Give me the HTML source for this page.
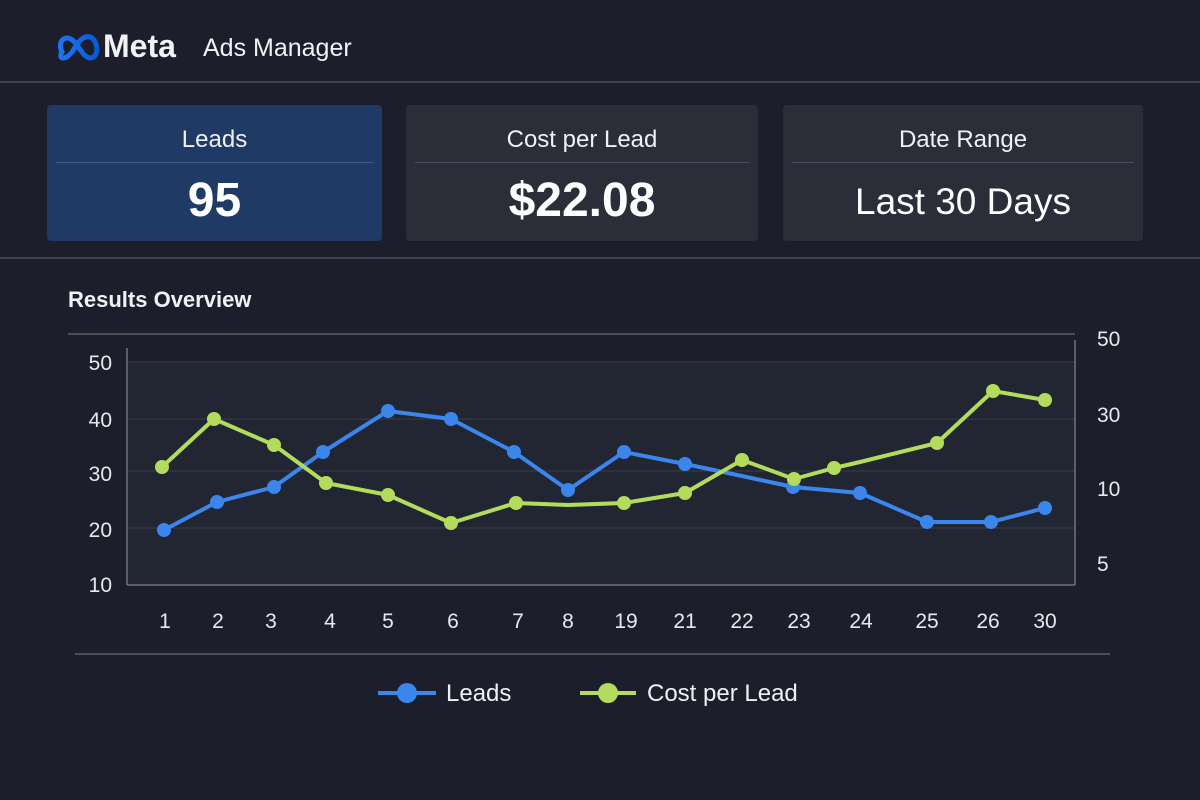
<!DOCTYPE html>
<html><head><meta charset="utf-8"><style>
body{margin:0;width:1200px;height:800px;background:#1c1f2b;font-family:"Liberation Sans",sans-serif;color:#fff;overflow:hidden;position:relative}
.card{position:absolute;top:105px;height:136px;border-radius:4px;background:#2b2e38}
.card .t{position:absolute;top:21px;width:100%;text-align:center;font-size:24px;color:#f0f0f4}
.card .hr{position:absolute;top:57px;left:9px;right:9px;height:1px;background:#4a4e5c}
.card .v{position:absolute;top:68px;width:100%;text-align:center;font-size:48px;font-weight:bold}
</style></head><body>
<svg width="1200" height="800" style="position:absolute;left:0;top:0">
<defs><linearGradient id="lg" x1="0" x2="1"><stop offset="0" stop-color="#1e74f0"/><stop offset="1" stop-color="#0a5ad8"/></linearGradient></defs>
<path d="M62 52 C56 40,68 32,76 44 L82 52 C90 64,100 56,96 44 C92 32,82 36,76 46 L72 52 C64 62,58 58,62 52Z" fill="none" stroke="url(#lg)" stroke-width="5"/>
<text x="103" y="57" font-size="32" font-weight="bold" fill="#f2f2f6">Meta</text>
<text x="203" y="56" font-size="25" fill="#f2f2f6">Ads Manager</text>
<line x1="0" y1="82" x2="1200" y2="82" stroke="#3e4250" stroke-width="2"/>
<line x1="0" y1="258" x2="1200" y2="258" stroke="#3e4250" stroke-width="2"/>
<text x="68" y="307" font-size="22" font-weight="bold" fill="#f2f2f6">Results Overview</text>
<line x1="68" y1="334" x2="1075" y2="334" stroke="#5a5e6c" stroke-width="1.5"/>
<line x1="75" y1="654" x2="1110" y2="654" stroke="#5a5e6c" stroke-width="1.5"/>
<rect x="128" y="362" width="947" height="222" fill="#222632"/>
<g stroke="#3a3e4c" stroke-width="1"><line x1="128" y1="362" x2="1075" y2="362"/><line x1="128" y1="419" x2="1075" y2="419"/><line x1="128" y1="471" x2="1075" y2="471"/><line x1="128" y1="528" x2="1075" y2="528"/></g>
<g stroke="#70747f" stroke-width="1.5"><line x1="127" y1="348" x2="127" y2="585"/><line x1="127" y1="585" x2="1075" y2="585"/><line x1="1075" y1="340" x2="1075" y2="585"/></g>
<g font-size="21" fill="#e8e8ee" text-anchor="end"><text x="112" y="370">50</text><text x="112" y="427">40</text><text x="112" y="481">30</text><text x="112" y="537">20</text><text x="112" y="592">10</text></g>
<g font-size="21" fill="#e8e8ee"><text x="1097" y="346">50</text><text x="1097" y="422">30</text><text x="1097" y="496">10</text><text x="1097" y="571">5</text></g>
<g font-size="21" fill="#e8e8ee" text-anchor="middle"><text x="165" y="628">1</text><text x="218" y="628">2</text><text x="271" y="628">3</text><text x="330" y="628">4</text><text x="388" y="628">5</text><text x="453" y="628">6</text><text x="518" y="628">7</text><text x="568" y="628">8</text><text x="626" y="628">19</text><text x="685" y="628">21</text><text x="742" y="628">22</text><text x="799" y="628">23</text><text x="861" y="628">24</text><text x="927" y="628">25</text><text x="988" y="628">26</text><text x="1045" y="628">30</text></g>
<polyline fill="none" stroke="#3b86ec" stroke-width="4" stroke-linejoin="round" points="164,530 217,502 274,487 323,452 388,411 451,419 514,452 568,490 624,452 685,464 742,476 793,487 860,493 927,522 991,522 1045,508"/>
<g fill="#3b86ec"><circle cx="164" cy="530" r="7"/><circle cx="217" cy="502" r="7"/><circle cx="274" cy="487" r="7"/><circle cx="323" cy="452" r="7"/><circle cx="388" cy="411" r="7"/><circle cx="451" cy="419" r="7"/><circle cx="514" cy="452" r="7"/><circle cx="568" cy="490" r="7"/><circle cx="624" cy="452" r="7"/><circle cx="685" cy="464" r="7"/><circle cx="793" cy="487" r="7"/><circle cx="860" cy="493" r="7"/><circle cx="927" cy="522" r="7"/><circle cx="991" cy="522" r="7"/><circle cx="1045" cy="508" r="7"/></g>
<polyline fill="none" stroke="#b4dc5c" stroke-width="4" stroke-linejoin="round" points="162,467 214,419 274,445 326,483 388,495 451,523 516,503 568,505 624,503 685,493 742,460 794,479 834,468 860,462 937,443 993,391 1045,400"/>
<g fill="#b4dc5c"><circle cx="162" cy="467" r="7"/><circle cx="214" cy="419" r="7"/><circle cx="274" cy="445" r="7"/><circle cx="326" cy="483" r="7"/><circle cx="388" cy="495" r="7"/><circle cx="451" cy="523" r="7"/><circle cx="516" cy="503" r="7"/><circle cx="624" cy="503" r="7"/><circle cx="685" cy="493" r="7"/><circle cx="742" cy="460" r="7"/><circle cx="794" cy="479" r="7"/><circle cx="834" cy="468" r="7"/><circle cx="937" cy="443" r="7"/><circle cx="993" cy="391" r="7"/><circle cx="1045" cy="400" r="7"/></g>
<line x1="378" y1="693" x2="436" y2="693" stroke="#3b86ec" stroke-width="4"/><circle cx="407" cy="693" r="10" fill="#3b86ec"/>
<text x="446" y="701" font-size="24" fill="#f0f0f4">Leads</text>
<line x1="580" y1="693" x2="636" y2="693" stroke="#b4dc5c" stroke-width="4"/><circle cx="608" cy="693" r="10" fill="#b4dc5c"/>
<text x="647" y="701" font-size="24" fill="#f0f0f4">Cost per Lead</text>
</svg>
<div class="card" style="left:47px;width:335px;background:#1f3a64"><div class="t">Leads</div><div class="hr" style="background:#3f5a84"></div><div class="v">95</div></div>
<div class="card" style="left:406px;width:352px"><div class="t">Cost per Lead</div><div class="hr"></div><div class="v">$22.08</div></div>
<div class="card" style="left:783px;width:360px"><div class="t">Date Range</div><div class="hr"></div><div class="v" style="font-size:37px;top:76px;font-weight:normal">Last 30 Days</div></div>
</body></html>
